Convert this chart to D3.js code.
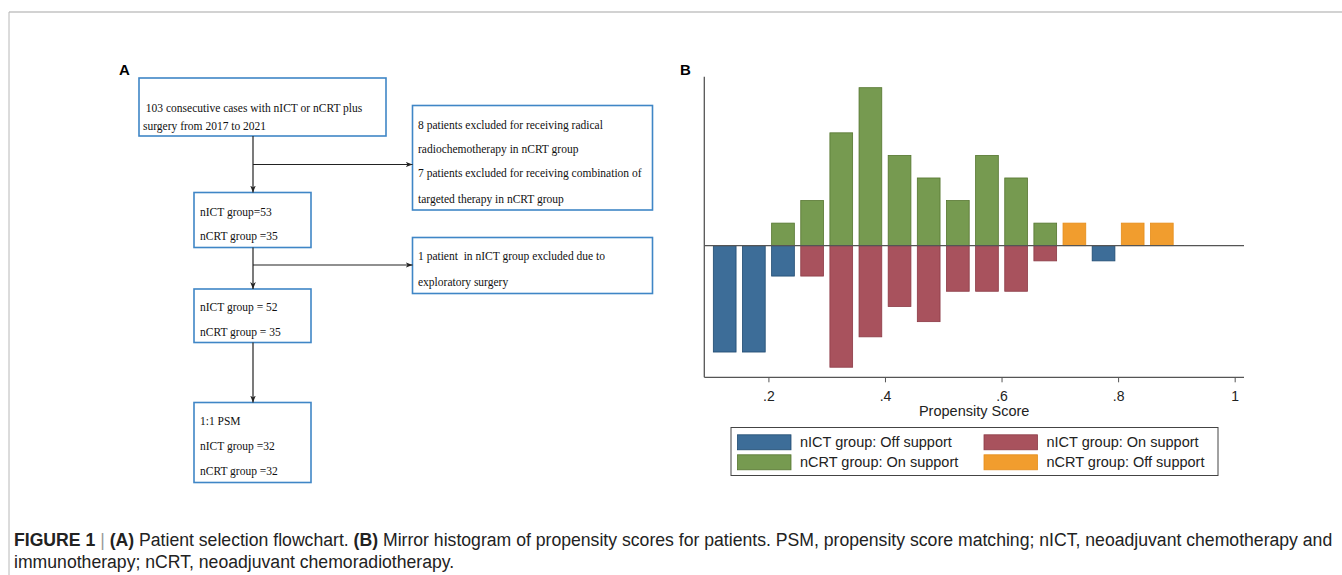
<!DOCTYPE html>
<html>
<head>
<meta charset="utf-8">
<script src="https://cdn.jsdelivr.net/npm/d3@7"></script>
<style>
  body { margin: 0; background: #fff; }
  svg { display: block; }
</style>
</head>
<body>
<svg id="fig"></svg>
<script>
// histogram bins (lower edge, width 0.05)
const binStart = [0.10, 0.15, 0.20, 0.25, 0.30, 0.35, 0.40, 0.45, 0.50, 0.55, 0.60, 0.65, 0.70, 0.75, 0.80, 0.85];
const binWidth = 0.05;
// counts per bin
const nictOff = [7, 7, 2, 0, 0, 0, 0, 0, 0, 0, 0, 0, 0, 1, 0, 0];
const nictOn  = [0, 0, 0, 2, 8, 6, 4, 5, 3, 3, 3, 1, 0, 0, 0, 0];
const ncrtOn  = [0, 0, 1, 2, 5, 7, 4, 3, 2, 4, 3, 1, 0, 0, 0, 0];
const ncrtOff = [0, 0, 0, 0, 0, 0, 0, 0, 0, 0, 0, 0, 1, 0, 1, 1];
const nNict = 52, nNcrt = 35;
const xTicks = [0.2, 0.4, 0.6, 0.8, 1];
const legendLabels = ["nICT group: Off support", "nICT group: On support", "nCRT group: On support", "nCRT group: Off support"];

const flowBoxes = [
  { lines: [" 103 consecutive cases with nICT or nCRT plus", "surgery from 2017 to 2021"] },
  { lines: ["8 patients excluded for receiving radical", "radiochemotherapy in nCRT group", "7 patients excluded for receiving combination of", "targeted therapy in nCRT group"] },
  { lines: ["nICT group=53", "nCRT group =35"] },
  { lines: ["1 patient  in nICT group excluded due to", "exploratory surgery"] },
  { lines: ["nICT group = 52", "nCRT group = 35"] },
  { lines: ["1:1 PSM", "nICT group =32", "nCRT group =32"] }
];

const W = 1342, H = 575;
const svg = d3.select("#fig").attr("width", W).attr("height", H);
svg.append("rect").attr("width", W).attr("height", H).attr("fill", "#fff");

// page frame
svg.append("line").attr("x1", 9).attr("x2", W).attr("y1", 12).attr("y2", 12)
  .attr("stroke", "#d2d2d2").attr("stroke-width", 2);
svg.append("line").attr("x1", 9).attr("x2", 9).attr("y1", 12).attr("y2", H)
  .attr("stroke", "#b8b8b8").attr("stroke-width", 1);

// panel labels
svg.append("text").attr("x", 119).attr("y", 75).text("A")
  .attr("font-family", "Liberation Sans, Arial, sans-serif").attr("font-weight", "bold").attr("font-size", 15);
svg.append("text").attr("x", 680).attr("y", 75).text("B")
  .attr("font-family", "Liberation Sans, Arial, sans-serif").attr("font-weight", "bold").attr("font-size", 15);

// ---------- flowchart ----------
const boxGeom = [
  { x: 139, y: 78, w: 247, h: 58, tx: 143, ty: [111.5, 130] },
  { x: 412.5, y: 105.5, w: 240, h: 104.5, tx: 418, ty: [129, 153, 177, 203] },
  { x: 194, y: 192.5, w: 117, h: 55, tx: 200, ty: [215.5, 240] },
  { x: 412.5, y: 237.5, w: 240, h: 56, tx: 418, ty: [260, 286] },
  { x: 194, y: 289, w: 117, h: 53.5, tx: 200, ty: [310.5, 335.5] },
  { x: 194, y: 402.5, w: 117, h: 80, tx: 200, ty: [425, 449.5, 475] }
];
const flow = svg.append("g");
flowBoxes.forEach((b, i) => {
  const g = boxGeom[i];
  flow.append("rect").attr("x", g.x).attr("y", g.y).attr("width", g.w).attr("height", g.h)
    .attr("fill", "#fff").attr("stroke", "#3f86c6").attr("stroke-width", 1.6);
  b.lines.forEach((t, j) => {
    const tx = flow.append("text").attr("x", g.tx).attr("y", g.ty[j]).text(t)
      .style("white-space", "pre")
      .attr("font-family", "Liberation Serif, Times New Roman, serif")
      .attr("font-size", 11.5).attr("fill", "#111");
    // condensed look: taller glyphs at the same width
    const wNat = tx.node().getComputedTextLength();
    tx.attr("font-size", 13).attr("textLength", wNat).attr("lengthAdjust", "spacingAndGlyphs");
  });
});

svg.append("defs").append("marker").attr("id", "arr")
  .attr("viewBox", "0 0 10 10").attr("refX", 10).attr("refY", 5)
  .attr("markerWidth", 7).attr("markerHeight", 7).attr("orient", "auto-start-reverse")
  .attr("markerUnits", "userSpaceOnUse")
  .append("path").attr("d", "M0,1 L10,5 L0,9 L3,5 Z").attr("fill", "#222");

const cx = 253;
const arrows = [
  [cx, 136, cx, 192.5],
  [cx, 164.5, 412.5, 164.5],
  [cx, 247.5, cx, 289],
  [cx, 265, 412.5, 265],
  [cx, 342.5, cx, 402.5]
];
arrows.forEach(a => {
  flow.append("line").attr("x1", a[0]).attr("y1", a[1]).attr("x2", a[2]).attr("y2", a[3])
    .attr("stroke", "#222").attr("stroke-width", 1.2).attr("marker-end", "url(#arr)");
});

// ---------- mirror histogram ----------
const x = d3.scaleLinear().domain([0.09, 1.016]).range([704.3, 1244]);
const y = d3.scaleLinear().domain([-0.1666, 0.2139]).range([377.3, 76.7]);

const colors = {
  nictOff: { fill: "#3d6d98", stroke: "#1f4a70" },
  nictOn:  { fill: "#a8525d", stroke: "#8c3a45" },
  ncrtOn:  { fill: "#769a50", stroke: "#55752f" },
  ncrtOff: { fill: "#f19d2e", stroke: "#e58d1a" }
};

const series = [
  { key: "ncrtOn", counts: ncrtOn, n: nNcrt, sign: 1 },
  { key: "ncrtOff", counts: ncrtOff, n: nNcrt, sign: 1 },
  { key: "nictOff", counts: nictOff, n: nNict, sign: -1 },
  { key: "nictOn", counts: nictOn, n: nNict, sign: -1 }
];

const barFrac = 0.78;
const hist = svg.append("g");
series.forEach(s => {
  const data = binStart.map((b, i) => ({ b, v: s.sign * s.counts[i] / s.n })).filter(d => d.v !== 0);
  hist.selectAll(null).data(data).enter().append("rect")
    .attr("x", d => x(d.b + binWidth * (1 - barFrac) / 2))
    .attr("width", d => x(d.b + binWidth * (1 + barFrac) / 2) - x(d.b + binWidth * (1 - barFrac) / 2))
    .attr("y", d => Math.min(y(d.v), y(0)))
    .attr("height", d => Math.abs(y(d.v) - y(0)))
    .attr("fill", colors[s.key].fill)
    .attr("stroke", colors[s.key].stroke)
    .attr("stroke-width", 0.8);
});

// zero line
hist.append("line").attr("x1", x(0.09)).attr("x2", x(1.016)).attr("y1", y(0)).attr("y2", y(0))
  .attr("stroke", "#555").attr("stroke-width", 1.3);

// y axis (no ticks)
hist.append("line").attr("x1", x(0.09)).attr("x2", x(0.09)).attr("y1", y(0.2139)).attr("y2", y(-0.1666))
  .attr("stroke", "#555").attr("stroke-width", 1.3);

// x axis
const xAxis = d3.axisBottom(x).tickValues(xTicks).tickSize(5).tickPadding(9).tickSizeOuter(0)
  .tickFormat(d => d === 1 ? "1" : d3.format(".1f")(d).replace(/^0/, ""));
const xg = hist.append("g").attr("transform", `translate(0,${y(-0.1666)})`).call(xAxis);
xg.select(".domain").attr("stroke", "#555").attr("stroke-width", 1.3).attr("d", `M${x(0.09)},0H${x(1.016)}`);
xg.selectAll(".tick line").attr("stroke", "#555");
xg.selectAll(".tick text").attr("font-family", "Liberation Sans, Arial, sans-serif")
  .attr("font-size", 14).attr("fill", "#222");

hist.append("text").attr("x", (x(0.09) + x(1.016)) / 2).attr("y", 416).attr("text-anchor", "middle")
  .text("Propensity Score").attr("font-family", "Liberation Sans, Arial, sans-serif")
  .attr("font-size", 14.5).attr("fill", "#222");

// legend
const leg = svg.append("g");
leg.append("rect").attr("x", 731).attr("y", 427.5).attr("width", 487).attr("height", 48)
  .attr("fill", "#fff").attr("stroke", "#444").attr("stroke-width", 1);
const legKeys = ["nictOff", "nictOn", "ncrtOn", "ncrtOff"];
const legPos = [[737.5, 442.3], [984, 442.3], [737.5, 462.3], [984, 462.3]];
legKeys.forEach((k, i) => {
  const [lx, ly] = legPos[i];
  leg.append("rect").attr("x", lx).attr("y", ly - 7.5).attr("width", 53.5).attr("height", 15)
    .attr("fill", colors[k].fill).attr("stroke", colors[k].stroke).attr("stroke-width", 0.8);
  leg.append("text").attr("x", lx + 62.5).attr("y", ly + 5).text(legendLabels[i])
    .attr("font-family", "Liberation Sans, Arial, sans-serif").attr("font-size", 14.5).attr("fill", "#222");
});

// ---------- caption ----------
const cap = svg.append("g").attr("font-family", "Liberation Sans, Arial, sans-serif").attr("fill", "#222");
const line1 = cap.append("text").attr("x", 14).attr("y", 546).attr("font-size", 14);
line1.append("tspan").attr("font-weight", "bold").text("FIGURE 1");
line1.append("tspan").attr("fill", "#999").text(" | ");
line1.append("tspan").attr("font-weight", "bold").text("(A)");
line1.append("tspan").text(" Patient selection flowchart. ");
line1.append("tspan").attr("font-weight", "bold").text("(B)");
line1.append("tspan").text(" Mirror histogram of propensity scores for patients. PSM, propensity score matching; nICT, neoadjuvant chemotherapy and");
const line2 = cap.append("text").attr("x", 14).attr("y", 568).attr("font-size", 14)
  .text("immunotherapy; nCRT, neoadjuvant chemoradiotherapy.");
// fit caption width to the figure
const wNow = line1.node().getComputedTextLength();
const fs = 14 * (1319 / wNow);
line1.attr("font-size", fs);
line2.attr("font-size", fs);
</script>
</body>
</html>
